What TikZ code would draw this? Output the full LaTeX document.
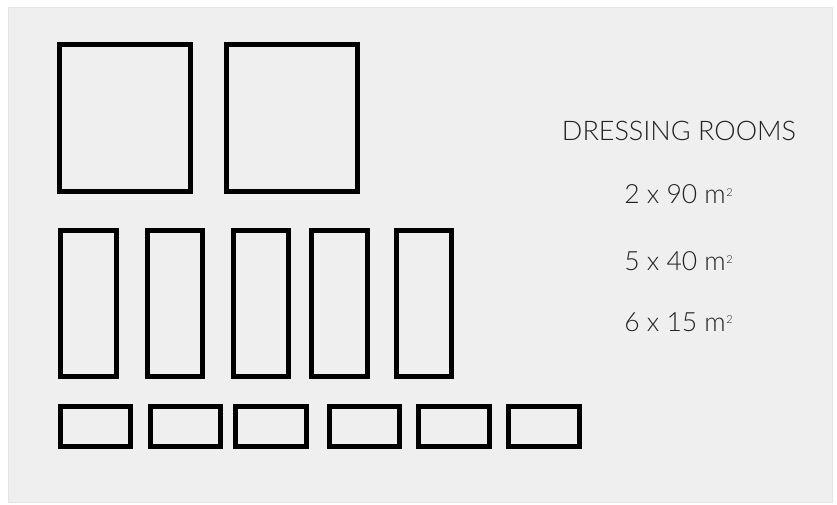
\documentclass[tikz,border=0pt]{standalone}
\usepackage{fontspec}
\setmainfont{Lato Light}
\definecolor{panel}{HTML}{EFEFEF}
\definecolor{panelline}{HTML}{E4E4E4}
\definecolor{ink}{HTML}{222222}
\newcommand{\sqm}{m\kern0.5pt\raisebox{7.5pt}{\fontsize{11}{11}\selectfont 2}}
\begin{document}
\begin{tikzpicture}[x=1pt,y=-1pt,
  room/.style={draw=black,line width=5pt},
  label/.style={text=ink,font=\fontsize{26.5}{29}\selectfont,anchor=base,inner sep=0pt}]
\useasboundingbox (0,0) rectangle (837,505);
\fill[white] (0,0) rectangle (837,505);
\draw[panelline,fill=panel,line width=1pt] (8.5,7.5) rectangle (832.5,502.5);
% big rooms
\draw[room] (59.5,44.5) rectangle (190.5,191);
\draw[room] (226,44.5) rectangle (357.5,191);
% medium rooms
\foreach \a/\b in {60.5/116.2,147.5/202.8,233.8/288.8,311.8/367.2,396.5/451.8}
  \draw[room] (\a,230.8) rectangle (\b,376.8);
% small rooms
\foreach \a/\b in {60.5/130.8,150.8/220.8,235.8/306.8,329.2/399.8,418.8/489.8,508.8/579.5}
  \draw[room] (\a,406.8) rectangle (\b,446.5);
% labels
\node[label,font=\fontsize{27}{30}\selectfont] (title) at (679,140.7) {DRESSING ROOMS};
\node[label] (l1) at (678.5,204) {2 x 90 \sqm};
\node[label] (l2) at (678.5,270.5) {5 x 40 \sqm};
\node[label] (l3) at (678.5,331) {6 x 15 \sqm};
\end{tikzpicture}
\end{document}
